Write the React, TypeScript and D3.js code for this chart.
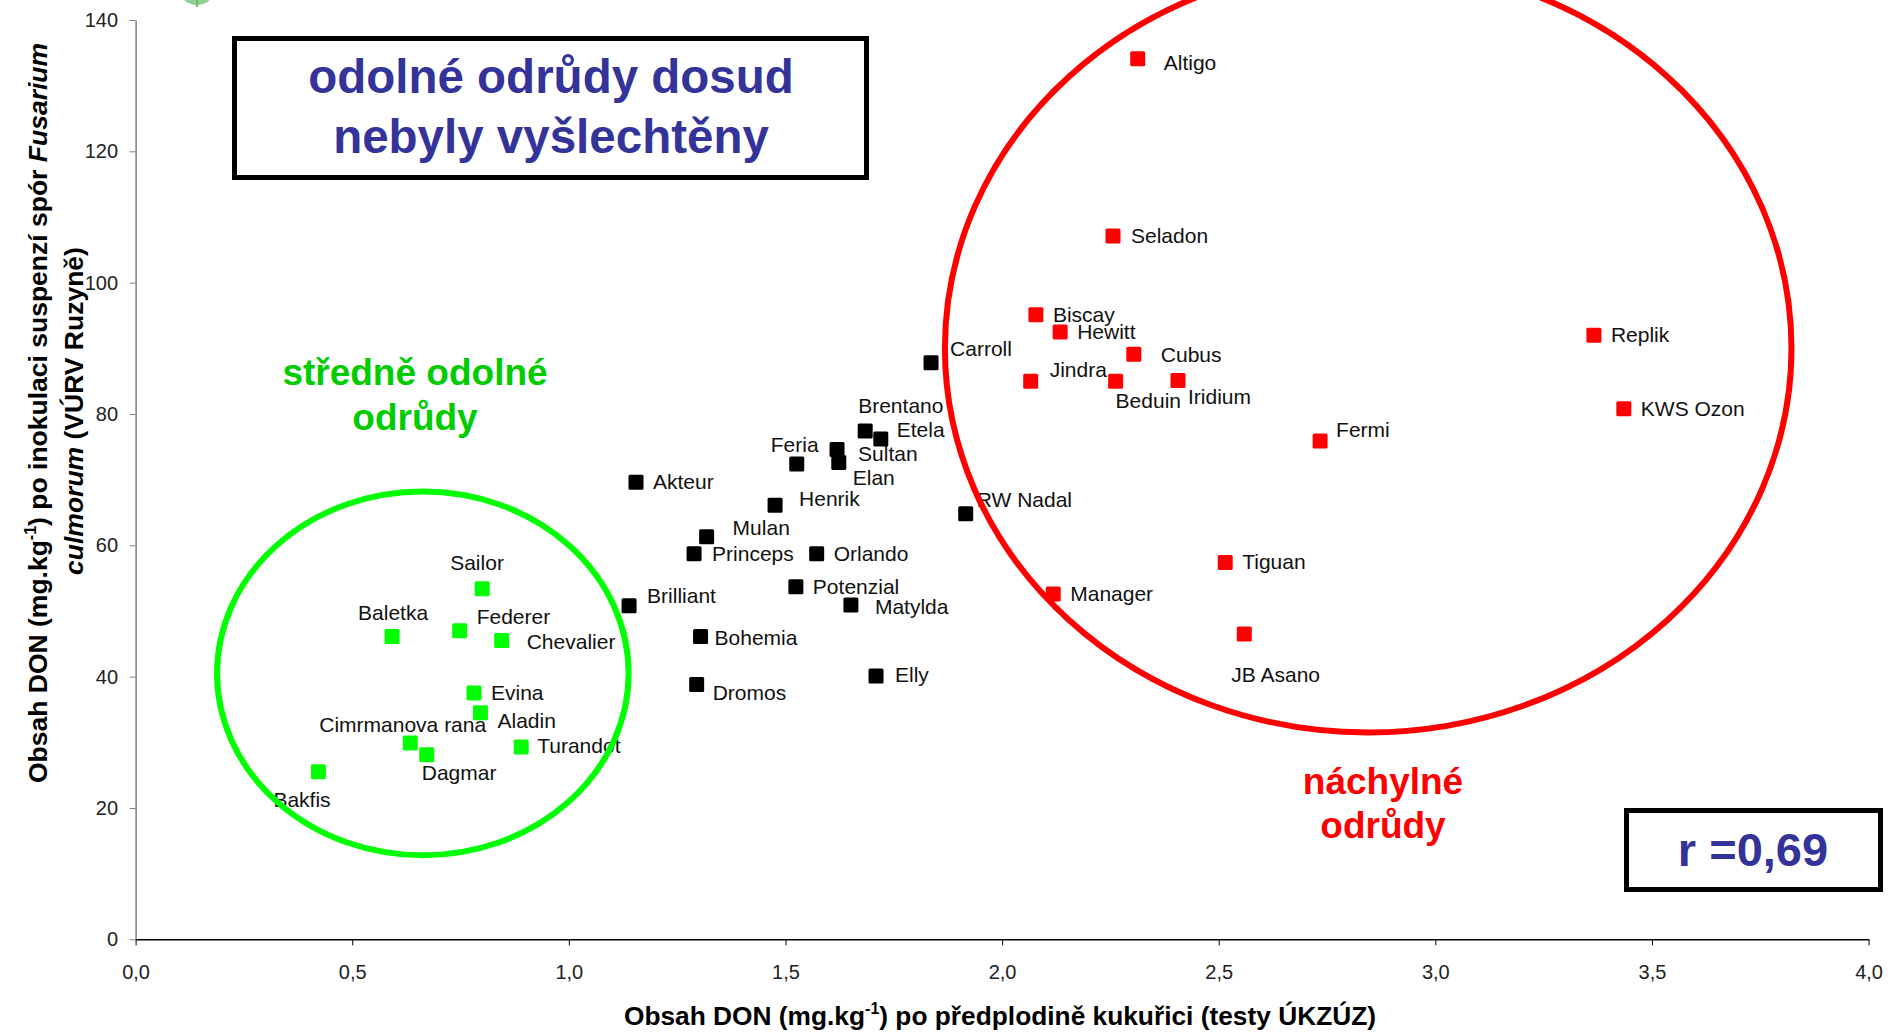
import { useEffect, useRef } from 'react';
import * as d3 from 'd3';

const WIDTH = 1888;
const HEIGHT = 1034;
const FONT = '"Liberation Sans", Arial, Helvetica, sans-serif';

// středně odolné odrůdy (zelené)
const greenNames = ['Sailor', 'Baletka', 'Federer', 'Chevalier', 'Evina', 'Aladin', 'Cimrmanova raná', 'Dagmar', 'Turandot', 'Bakfis'];
const greenX = [0.80, 0.592, 0.748, 0.845, 0.781, 0.796, 0.634, 0.672, 0.890, 0.422];
const greenY = [53.4, 46.1, 47.0, 45.5, 37.5, 34.5, 29.9, 28.1, 29.3, 25.5];

// ostatní odrůdy (černé)
const blackNames = ['Akteur', 'Brilliant', 'Mulan', 'Princeps', 'Bohemia', 'Dromos', 'Henrik', 'Feria', 'Sultan', 'Elan', 'Brentano', 'Etela', 'Orlando', 'Potenzial', 'Matylda', 'Elly', 'Carroll', 'RW Nadal'];
const blackX = [1.155, 1.139, 1.318, 1.289, 1.304, 1.295, 1.476, 1.526, 1.619, 1.623, 1.684, 1.720, 1.572, 1.524, 1.651, 1.709, 1.836, 1.916];
const blackY = [69.6, 50.8, 61.3, 58.7, 46.1, 38.8, 66.1, 72.4, 74.6, 72.6, 77.4, 76.2, 58.7, 53.7, 50.9, 40.1, 87.8, 64.8];

// náchylné odrůdy (červené)
const redNames = ['Altigo', 'Seladon', 'Biscay', 'Hewitt', 'Cubus', 'Jindra', 'Beduin', 'Iridium', 'Fermi', 'Replik', 'KWS Ozon', 'Tiguan', 'Manager', 'JB Asano'];
const redX = [2.313, 2.256, 2.078, 2.134, 2.304, 2.066, 2.262, 2.406, 2.734, 3.366, 3.435, 2.515, 2.118, 2.559];
const redY = [134.1, 107.1, 95.1, 92.5, 89.1, 85.0, 85.0, 85.1, 75.9, 92.0, 80.8, 57.4, 52.6, 46.5];

const xTicks = [0, 0.5, 1, 1.5, 2, 2.5, 3, 3.5, 4];
const yTicks = [0, 20, 40, 60, 80, 100, 120, 140];

// label placement (px from marker centre to text start / baseline)
const labelOffsets: Record<string, [number, number]> = {
  Sailor: [-32, -19], Baletka: [-34, -17], Federer: [17, -7], Chevalier: [25, 8],
  Evina: [17, 7], Aladin: [17, 15], 'Cimrmanova raná': [-91, -11], Dagmar: [-5, 25],
  Turandot: [16, 6], Bakfis: [-45, 35],
  Akteur: [17, 7], Brilliant: [18, -3], Mulan: [26, -2], Princeps: [18, 7], Bohemia: [14, 8],
  Dromos: [16, 15], Henrik: [24, 1], Feria: [-26, -12], Sultan: [21, 12], Elan: [14, 22],
  Brentano: [-7, -18], Etela: [16, -2], Orlando: [17, 7], Potenzial: [17, 7], Matylda: [24, 9],
  Elly: [19, 6], Carroll: [19, -7], 'RW Nadal': [11, -7],
  Altigo: [26, 11], Seladon: [18, 7], Biscay: [17, 7], Hewitt: [17, 7], Cubus: [27, 8],
  Jindra: [19, -4], Beduin: [0, 27], Iridium: [10, 24], Fermi: [16, -4], Replik: [17, 7],
  'KWS Ozon': [17, 7], Tiguan: [17, 7], Manager: [17, 7], 'JB Asano': [-13, 48],
};

const App = () => {
  const svgRef = useRef<SVGSVGElement>(null);

  useEffect(() => {
    if (!svgRef.current) return;
    const svg = d3.select(svgRef.current);
    svg.selectAll('*').remove();

    const x = d3.scaleLinear().domain([0, 4]).range([135.6, 1868.6]);
    const y = d3.scaleLinear().domain([0, 140]).range([939.3, 20]);

    // stray green shape at the top edge
    svg.append('ellipse').attr('cx', 197).attr('cy', -4).attr('rx', 14).attr('ry', 9).attr('fill', '#8fcf8f');
    svg.append('line').attr('x1', 197).attr('x2', 197).attr('y1', 0).attr('y2', 7)
      .attr('stroke', '#6cbf6c').attr('stroke-width', 2);

    // Y axis
    const yAxis = svg.append('g')
      .attr('transform', `translate(${x(0)},0)`)
      .call(d3.axisLeft(y).tickValues(yTicks).tickSize(6).tickSizeOuter(0).tickPadding(11.6));
    yAxis.select('.domain').attr('stroke', '#808080').attr('stroke-width', 1.5);
    yAxis.selectAll('.tick line').attr('stroke', '#808080');
    yAxis.selectAll('text').attr('font-family', FONT).attr('font-size', 20).attr('fill', '#222');

    // X axis
    const xAxis = svg.append('g')
      .attr('transform', `translate(0,${y(0)})`)
      .call(d3.axisBottom(x).tickValues(xTicks).tickSize(6).tickSizeOuter(0).tickPadding(20)
        .tickFormat(d => d3.format('.1f')(d as number).replace('.', ',')));
    xAxis.select('.domain').attr('stroke', '#000').attr('stroke-width', 1.5);
    xAxis.selectAll('.tick line').attr('stroke', '#000');
    xAxis.selectAll('text').attr('font-family', FONT).attr('font-size', 20).attr('fill', '#222');

    // axis titles
    const xTitle = svg.append('text')
      .attr('x', 1000).attr('y', 1025)
      .attr('text-anchor', 'middle')
      .attr('font-family', FONT).attr('font-size', 26.3).attr('font-weight', 'bold');
    xTitle.append('tspan').text('Obsah DON (mg.kg');
    xTitle.append('tspan').attr('font-size', 16).attr('dy', -11).text('-1');
    xTitle.append('tspan').attr('dy', 11).text(') po předplodině kukuřici (testy ÚKZÚZ)');

    const yTitle1 = svg.append('text')
      .attr('transform', 'translate(47,413) rotate(-90)')
      .attr('text-anchor', 'middle')
      .attr('font-family', FONT).attr('font-size', 26.5).attr('font-weight', 'bold');
    yTitle1.append('tspan').text('Obsah DON (mg.kg');
    yTitle1.append('tspan').attr('font-size', 16).attr('dy', -11).text('-1');
    yTitle1.append('tspan').attr('dy', 11).text(') po inokulaci suspenzí spór ');
    yTitle1.append('tspan').attr('font-style', 'italic').text('Fusarium');

    const yTitle2 = svg.append('text')
      .attr('transform', 'translate(83,411) rotate(-90)')
      .attr('text-anchor', 'middle')
      .attr('font-family', FONT).attr('font-size', 26.5).attr('font-weight', 'bold');
    yTitle2.append('tspan').attr('font-style', 'italic').text('culmorum');
    yTitle2.append('tspan').text('  (VÚRV Ruzyně)');

    // points + labels
    const groups = [
      { names: greenNames, xs: greenX, ys: greenY, color: '#00FF00' },
      { names: blackNames, xs: blackX, ys: blackY, color: '#000000' },
      { names: redNames, xs: redX, ys: redY, color: '#FF0000' },
    ];
    const size = 15;
    groups.forEach(grp => {
      const data = grp.names.map((n, i) => ({ name: n, x: grp.xs[i], y: grp.ys[i] }));
      const g = svg.append('g');
      g.selectAll('text')
        .data(data)
        .join('text')
        .attr('x', d => x(d.x) + labelOffsets[d.name][0])
        .attr('y', d => y(d.y) + labelOffsets[d.name][1])
        .attr('font-family', FONT).attr('font-size', 21).attr('fill', '#111')
        .text(d => d.name);
      g.selectAll('rect')
        .data(data)
        .join('rect')
        .attr('x', d => x(d.x) - size / 2)
        .attr('y', d => y(d.y) - size / 2)
        .attr('width', size).attr('height', size).attr('rx', 1.5)
        .attr('fill', grp.color);
    });

    // group ellipses
    svg.append('ellipse')
      .attr('cx', x(0.663)).attr('cy', y(40.5))
      .attr('rx', x(0.475) - x(0)).attr('ry', y(0) - y(27.7))
      .attr('fill', 'none').attr('stroke', '#00FF00').attr('stroke-width', 6);
    svg.append('ellipse')
      .attr('cx', x(2.845)).attr('cy', y(90))
      .attr('rx', x(0.977) - x(0)).attr('ry', y(0) - y(58.5))
      .attr('fill', 'none').attr('stroke', '#FF0000').attr('stroke-width', 6);

    // annotation: resistant varieties not bred yet
    svg.append('rect')
      .attr('x', 234.5).attr('y', 38.5).attr('width', 632).attr('height', 139)
      .attr('fill', '#fff').attr('stroke', '#000').attr('stroke-width', 5);
    const boxText = svg.append('text')
      .attr('text-anchor', 'middle')
      .attr('font-family', FONT).attr('font-size', 47.5).attr('font-weight', 'bold').attr('fill', '#333399');
    boxText.append('tspan').attr('x', 551).attr('y', 93).text('odolné odrůdy dosud');
    boxText.append('tspan').attr('x', 551).attr('y', 153).text('nebyly vyšlechtěny');

    const midText = svg.append('text')
      .attr('text-anchor', 'middle')
      .attr('font-family', FONT).attr('font-size', 37).attr('font-weight', 'bold').attr('fill', '#00CC00');
    midText.append('tspan').attr('x', 415).attr('y', 385).text('středně odolné');
    midText.append('tspan').attr('x', 415).attr('y', 430).text('odrůdy');

    const susText = svg.append('text')
      .attr('text-anchor', 'middle')
      .attr('font-family', FONT).attr('font-size', 37).attr('font-weight', 'bold').attr('fill', '#FF0000');
    susText.append('tspan').attr('x', 1383).attr('y', 794).text('náchylné');
    susText.append('tspan').attr('x', 1383).attr('y', 838).text('odrůdy');

    // correlation box
    svg.append('rect')
      .attr('x', 1626.5).attr('y', 810.5).attr('width', 254).attr('height', 79)
      .attr('fill', '#fff').attr('stroke', '#000').attr('stroke-width', 5);
    svg.append('text')
      .attr('x', 1753).attr('y', 866)
      .attr('text-anchor', 'middle')
      .attr('font-family', FONT).attr('font-size', 47).attr('font-weight', 'bold').attr('fill', '#333399')
      .text('r =0,69');
  }, []);

  return (
    <svg
      ref={svgRef}
      width={WIDTH}
      height={HEIGHT}
      style={{ position: 'absolute', left: 0, top: 0, background: '#fff' }}
    />
  );
};

export default App;
